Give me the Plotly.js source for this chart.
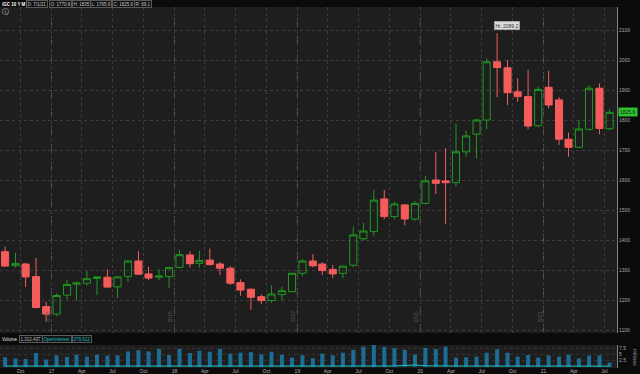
<!DOCTYPE html>
<html>
<head>
<meta charset="utf-8">
<script src="https://cdn.plot.ly/plotly-3.0.1.min.js"></script>
<style>html,body{margin:0;padding:0;background:#0b0b0b;}#chart{width:640px;height:374px;}</style>
</head>
<body>
<div id="chart"></div>
<script>
// ---- data (monthly /GC, Aug 2016 .. Jul 2021) ----
const months = ['2016-08','2016-09','2016-10','2016-11','2016-12',
  '2017-01','2017-02','2017-03','2017-04','2017-05','2017-06','2017-07','2017-08','2017-09','2017-10','2017-11','2017-12',
  '2018-01','2018-02','2018-03','2018-04','2018-05','2018-06','2018-07','2018-08','2018-09','2018-10','2018-11','2018-12',
  '2019-01','2019-02','2019-03','2019-04','2019-05','2019-06','2019-07','2019-08','2019-09','2019-10','2019-11','2019-12',
  '2020-01','2020-02','2020-03','2020-04','2020-05','2020-06','2020-07','2020-08','2020-09','2020-10','2020-11','2020-12',
  '2021-01','2021-02','2021-03','2021-04','2021-05','2021-06','2021-07'];
const openP  = [1361,1314,1320,1278,1178, 1153,1216,1253,1256,1272,1276,1244,1278,1330,1287,1276,1278,
  1309,1350,1322,1333,1320,1306,1258,1236,1211,1198,1218,1228,
  1289,1330,1320,1302,1289,1316,1404,1428,1537,1478,1517,1470,
  1522,1600,1597,1591,1694,1753,1800,1994,1974,1894,1878,1781,
  1909,1867,1736,1709,1769,1906,1770.8];
const highP  = [1378,1358,1324,1340,1194, 1222,1267,1261,1298,1278,1302,1279,1332,1364,1311,1302,1310,
  1366,1362,1364,1371,1327,1313,1269,1238,1219,1249,1244,1289,
  1336,1353,1326,1317,1313,1444,1458,1567,1567,1528,1520,1530,
  1613,1694,1706,1788,1765,1803,2005,2089.2,2000,1939,1967,1911,
  1964,1876,1758,1800,1916,1922,1835];
const lowP   = [1310,1309,1244,1172,1128, 1146,1202,1198,1248,1216,1241,1207,1260,1284,1266,1266,1240,
  1306,1308,1307,1315,1283,1250,1214,1167,1187,1191,1198,1226,
  1280,1309,1283,1272,1272,1310,1398,1413,1469,1469,1449,1464,
  1518,1553,1453,1578,1678,1672,1769,1876,1850,1861,1769,1776,
  1839,1717,1678,1708,1765,1753,1765.9];
const closeP = [1313,1322,1277,1175,1153, 1215,1252,1257,1271,1277,1243,1277,1330,1286,1273,1280,1308,
  1351,1321,1332,1318,1306,1256,1233,1209,1198,1220,1231,1289,
  1330,1314,1298,1287,1313,1417,1430,1533,1478,1520,1470,1522,
  1597,1589,1591,1694,1747,1800,1994,1975,1891,1878,1780,1902,
  1850,1736,1709,1770,1906,1772,1825.6];
const volumeM = [3.93,3.4,3.27,5.67,3.0, 4.73,4.07,5.0,4.2,5.0,4.6,4.73,6.33,6.87,6.33,7.4,4.87,
  7.4,5.67,6.6,6.2,7.4,5.4,5.8,6.07,5.13,6.2,5.0,3.8,
  4.73,3.53,5.4,4.73,5.8,7.0,8.33,9.13,8.2,7.67,7.0,5.0,
  7.8,7.27,8.33,3.8,3.93,4.2,5.8,7.27,5.8,4.2,4.87,3.8,
  4.73,4.2,5.0,3.4,4.6,4.73,1.75];
const openInterestM = [0.30,0.28,0.30,0.31,0.27, 0.29,0.30,0.28,0.30,0.29,0.28,0.30,0.31,0.29,0.30,0.31,0.28,
  0.30,0.29,0.31,0.30,0.29,0.30,0.28,0.29,0.30,0.31,0.29,0.28,
  0.30,0.29,0.31,0.30,0.29,0.31,0.32,0.33,0.31,0.34,0.55,0.75,
  0.40,0.31,0.30,0.29,0.30,0.31,0.32,0.30,0.29,0.30,0.31,0.29,
  0.30,0.31,0.30,0.29,0.30,0.31,0.28];
const tickDates = ['2016-10-01','2017-01-01','2017-04-01','2017-07-01','2017-10-01','2018-01-01','2018-04-01','2018-07-01','2018-10-01',
  '2019-01-01','2019-04-01','2019-07-01','2019-10-01','2020-01-01','2020-04-01','2020-07-01','2020-10-01','2021-01-01','2021-04-01','2021-07-01'];
const tickLabels = ['Oct','17','Apr','Jul','Oct','18','Apr','Jul','Oct','19','Apr','Jul','Oct','20','Apr','Jul','Oct','21','Apr','Jul'];
const yearStarts = ['2017-01-01','2018-01-01','2019-01-01','2020-01-01','2021-01-01'];
const yearLabels = ['2017','2018','2019','2020','2021'];
const priceTicks = [1100,1200,1300,1400,1500,1600,1700,1800,1900,2000,2100];
const volTicks = [2.5,5,7.5];
const volTickText = ['2.5','5','7.5'];
const headerItems = ['D: 7/1/21','O: 1770.8','H: 1835','L: 1765.9','C: 1825.6','R: 69.1'];
const symbolText = '/GC 10 Y M';
const volumeText = '1,312,437';
const oiText = '279,612';
const lastPrice = 1825.6;
const hiValue = 2089.2;
const hiMonth = '2020-08';

// ---- layout helpers (pixel -> paper) ----
const W = 640, H = 374, ML = 0, MR = 23, MT = 7, MB = 6;
const PW = W - ML - MR, PH = H - MT - MB;
const px = x => (x - ML) / PW;
const py = y => (H - MB - y) / PH;

const xDates = months.map(m => m + '-16');
const FONT = 'Liberation Sans, Arial, sans-serif';
const NARROW = 'Liberation Sans Narrow, Liberation Sans, Arial, sans-serif';

const candle = {
  type: 'candlestick', x: xDates, open: openP, high: highP, low: lowP, close: closeP,
  xaxis: 'x', yaxis: 'y', hoverinfo: 'none',
  increasing: {line: {color: '#1f9a1f', width: 1}, fillcolor: 'rgba(0,0,0,0)'},
  decreasing: {line: {color: '#f45c5c', width: 1}, fillcolor: '#f45c5c'},
  whiskerwidth: 0
};
const vol = {
  type: 'bar', x: xDates, y: volumeM, xaxis: 'x2', yaxis: 'y2',
  marker: {color: '#1b6d95', line: {width: 0}}, width: 12 * 86400000, hoverinfo: 'none'
};
const oi = {
  type: 'scatter', mode: 'lines', x: xDates, y: openInterestM, xaxis: 'x2', yaxis: 'y2',
  line: {color: '#1cc4c4', width: 1}, hoverinfo: 'none'
};

const annotations = [];
const shapes = [];
const boxStyle = {bordercolor:'#5a5a5a', borderwidth:1, borderpad:0.5, bgcolor:'#111111'};
// top header
annotations.push({xref:'paper', yref:'paper', x:px(0), y:py(4), xanchor:'left', yanchor:'middle', text:'<b>'+symbolText+'</b>', showarrow:false, font:{family:NARROW, size:4.5, color:'#ffffff'}});
const headerX = [26, 49, 72, 90, 112, 134];
headerItems.forEach((t, i) => annotations.push(Object.assign({xref:'paper', yref:'paper', x:px(headerX[i]), y:py(4), xanchor:'left', yanchor:'middle', text:t, showarrow:false,
  font:{family:NARROW, size:4.5, color:'#c8c8c8'}}, boxStyle)));
annotations.push({xref:'paper', yref:'paper', x:px(5), y:py(12), xanchor:'center', yanchor:'middle', text:'ⓘ', showarrow:false, font:{family:'DejaVu Sans', size:7, color:'#cfcfcf'}});
// volume header
annotations.push({xref:'paper', yref:'paper', x:px(0), y:py(339), xanchor:'left', yanchor:'middle', text:'Volume', showarrow:false, font:{family:NARROW, size:4.5, color:'#e0e0e0'}});
annotations.push(Object.assign({xref:'paper', yref:'paper', x:px(19), y:py(339), xanchor:'left', yanchor:'middle', text:volumeText, showarrow:false, font:{family:NARROW, size:4.5, color:'#bdbdbd'}}, boxStyle));
annotations.push(Object.assign({xref:'paper', yref:'paper', x:px(42), y:py(339), xanchor:'left', yanchor:'middle', text:'Openinterest', showarrow:false, font:{family:NARROW, size:4.5, color:'#1cc4c4'}}, boxStyle));
annotations.push(Object.assign({xref:'paper', yref:'paper', x:px(72), y:py(339), xanchor:'left', yanchor:'middle', text:oiText, showarrow:false, font:{family:NARROW, size:4.5, color:'#1cc4c4'}}, boxStyle));
// millions
annotations.push({xref:'paper', yref:'paper', x:px(635), y:py(357), xanchor:'center', yanchor:'middle', text:'millions', textangle:90, showarrow:false, font:{family:FONT, size:5, color:'#9a9a9a'}});
// last price tag
annotations.push({xref:'paper', yref:'y', x:1, y:lastPrice, xanchor:'left', yanchor:'middle', xshift:1, text:lastPrice.toFixed(1), showarrow:false,
  font:{family:FONT, size:5, color:'#0a2a0a'}, bgcolor:'#2fc02f', borderpad:1});
// high tag
annotations.push({xref:'x', yref:'y', x:hiMonth+'-16', y:hiValue, xanchor:'left', yanchor:'bottom', xshift:-3, yshift:3, text:'Hi: '+hiValue.toFixed(1), showarrow:false,
  font:{family:FONT, size:5, color:'#333'}, bgcolor:'#dcdcdc', bordercolor:'#999', borderwidth:0.5, borderpad:1});
// year dashed lines + rotated labels
yearStarts.forEach((d, i) => {
  shapes.push({type:'line', xref:'x', yref:'y domain', x0:d, x1:d, y0:0, y1:1, line:{color:'#575757', width:1, dash:'dash'}, layer:'below'});
  annotations.push({xref:'x', yref:'paper', x:d, y:py(317), xanchor:'center', yanchor:'middle', xshift:-4, text:yearLabels[i], textangle:-90, showarrow:false, font:{family:FONT, size:5, color:'#5a5a5a'}});
});

const layout = {
  width: W, height: H, margin: {l:ML, r:MR, t:MT, b:MB},
  paper_bgcolor: '#0b0b0b', plot_bgcolor: '#1e1e1e', showlegend: false,
  boxgap: 0.25, boxgroupgap: 0,
  font: {family: FONT, size: 5, color: '#a0a0a0'},
  xaxis: {type:'date', domain:[0,1], range:['2016-08-01','2021-08-07'], anchor:'y', rangeslider:{visible:false},
    tickvals: tickDates, ticktext: tickLabels, showticklabels:false, showgrid:true, gridcolor:'#3d3d3d', griddash:'dot', gridwidth:1, zeroline:false, fixedrange:true},
  yaxis: {domain:[py(333), 1], range:[1090, 2176.7], side:'right', tickvals: priceTicks, ticks:'', showgrid:true, gridcolor:'#3d3d3d', griddash:'dot',
    showline:true, linecolor:'#808080', linewidth:1, zeroline:false, tickfont:{family:FONT, size:5, color:'#a8a8a8'}},
  xaxis2: {type:'date', domain:[0,1], range:['2016-08-01','2021-08-07'], anchor:'y2', matches:'x',
    tickvals: tickDates, ticktext: tickLabels, ticks:'', ticklen:0, ticklabelstandoff:-1, showgrid:false, zeroline:false, tickfont:{family:FONT, size:5, color:'#b0b0b0'}},
  yaxis2: {domain:[0, py(345)], range:[-0.5, 9.0], side:'right', tickvals: volTicks, ticktext: volTickText, ticks:'', showgrid:true, gridcolor:'#333', griddash:'dot',
    showline:true, linecolor:'#808080', linewidth:1, zeroline:false, tickfont:{family:FONT, size:5, color:'#a8a8a8'}},
  annotations: annotations, shapes: shapes
};
Plotly.newPlot('chart', [candle, vol, oi], layout, {staticPlot:true, displayModeBar:false});
</script>
</body>
</html>
